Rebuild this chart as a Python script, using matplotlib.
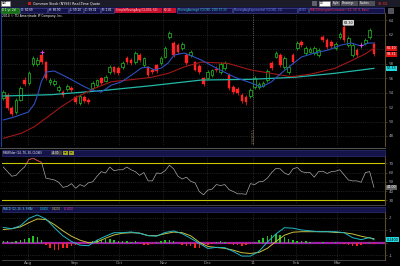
import matplotlib
matplotlib.use('Agg')
import matplotlib.pyplot as plt
import numpy as np
from matplotlib.patches import Rectangle

plt.rcParams['font.family'] = 'DejaVu Sans'

# price bars (Jul 2010 - Mar 2011)
opens = [53.24, 53.66, 51.86, 51.31, 52.97, 55.72, 55.31, 57.93, 57.93, 59.17,
         58.21, 55.45, 55.17, 54.34, 54.07, 54.48, 54.62, 53.38, 52.55, 53.38,
         52.97, 54.62, 55.03, 56.00, 55.59, 56.83, 57.52, 57.38, 57.52, 58.76,
         58.48, 58.21, 59.17, 57.79, 57.52, 57.10, 57.79, 58.07, 58.90, 61.66,
         60.83, 60.55, 60.14, 59.17, 59.17, 58.21, 57.66, 56.00, 56.00, 56.41,
         57.24, 56.83, 57.38, 56.41, 54.76, 54.48, 53.66, 53.38, 53.52, 54.76,
         54.76, 54.90, 55.72, 58.07, 58.90, 59.17, 57.52, 56.83, 59.17, 60.14,
         60.97, 59.45, 59.59, 59.45, 59.17, 61.66, 61.24, 60.97, 60.14, 61.66,
         63.03, 60.55, 59.17, 59.86, 60.50, 60.83, 61.66, 60.69]
highs = [54.40, 53.90, 52.10, 53.20, 54.90, 56.10, 56.90, 59.00, 58.90, 59.60,
         58.40, 56.00, 55.90, 55.00, 54.30, 55.20, 54.90, 53.60, 53.80, 53.60,
         53.20, 55.60, 55.90, 56.20, 56.40, 57.80, 57.70, 57.60, 58.30, 59.00,
         58.70, 59.70, 59.40, 58.90, 57.70, 57.40, 58.00, 59.00, 60.40, 62.50,
         61.10, 60.80, 61.00, 59.40, 59.80, 58.40, 57.90, 56.20, 57.10, 57.30,
         57.60, 58.20, 58.30, 56.70, 55.00, 54.70, 53.90, 53.60, 54.60, 56.30,
         55.40, 55.60, 57.20, 58.30, 59.70, 59.40, 59.00, 57.80, 59.40, 61.10,
         61.20, 60.40, 60.30, 60.40, 60.10, 61.90, 61.50, 61.20, 60.90, 62.40,
         63.30, 61.80, 60.80, 60.10, 60.90, 61.50, 62.90, 60.90]
lows = [53.00, 51.60, 50.70, 51.00, 52.80, 54.90, 55.00, 57.60, 57.70, 58.00,
        55.70, 55.10, 54.90, 54.10, 53.40, 54.20, 54.10, 52.40, 52.30, 52.60,
        52.40, 54.40, 54.80, 55.10, 55.40, 56.60, 56.60, 56.40, 57.30, 58.00,
        57.80, 58.00, 58.20, 57.50, 56.10, 56.60, 56.70, 57.80, 58.70, 61.40,
        58.90, 59.30, 59.90, 57.80, 58.90, 56.90, 56.60, 54.90, 55.80, 56.20,
        56.80, 56.60, 57.10, 54.40, 53.80, 53.60, 52.60, 52.30, 53.30, 54.50,
        54.50, 54.70, 55.50, 57.10, 58.70, 57.50, 57.30, 56.60, 58.00, 59.90,
        60.30, 59.20, 59.40, 59.20, 58.90, 61.00, 60.00, 60.20, 59.90, 61.40,
        61.00, 60.30, 58.90, 58.90, 60.20, 60.60, 61.40, 59.10]
closes = [54.07, 51.86, 51.03, 52.97, 54.62, 55.17, 56.69, 58.76, 58.48, 58.21,
          56.00, 55.72, 55.59, 54.76, 53.66, 54.90, 54.34, 52.69, 53.52, 52.83,
          52.69, 55.31, 55.72, 55.31, 56.14, 57.52, 56.83, 56.69, 58.07, 58.21,
          58.07, 59.45, 58.48, 58.76, 56.41, 56.83, 56.97, 58.76, 60.14, 62.21,
          59.17, 59.59, 60.69, 58.07, 59.59, 57.10, 56.83, 55.17, 56.83, 57.10,
          57.10, 57.93, 58.07, 54.62, 54.07, 53.93, 52.83, 52.69, 54.34, 56.00,
          55.17, 55.31, 56.97, 57.38, 59.45, 57.79, 58.76, 57.52, 58.21, 60.83,
          60.55, 60.14, 60.00, 60.14, 59.86, 61.24, 60.28, 60.41, 60.69, 62.07,
          61.24, 61.52, 60.55, 59.17, 60.60, 61.24, 62.62, 59.31]

# moving averages (bar position, value)
ema20_pos = [0, 2.6, 5.9, 7.3, 8.2, 8.9, 10.1, 12.0, 15.3, 18.3, 20.7, 23.0, 25.4,
             27.7, 30.8, 32.4, 34.0, 35.5, 37.1, 38.7, 40.1, 42.5, 44.8, 46.5,
             49.5, 54.2, 58.2, 60.6, 62.9, 65.3, 67.6, 70.0, 73.0, 76.3, 79.3,
             81.7, 84.0, 85.7, 87.0]
ema20 = [50.21, 50.62, 51.31, 52.41, 53.93, 55.45, 56.83, 56.97, 56.00, 55.03,
         54.34, 54.07, 55.03, 55.45, 56.69, 57.38, 57.52, 57.10, 57.38, 58.07,
         59.17, 59.45, 58.90, 58.48, 57.52, 56.14, 55.31, 54.76, 55.45, 56.69,
         57.79, 58.90, 59.45, 59.86, 60.55, 60.83, 60.41, 60.83, 60.83]
sma50_pos = [0, 4.2, 7.3, 10.5, 13.6, 16.7, 19.1, 21.4, 25.4, 30.8, 34.7, 38.7,
             42.6, 46.5, 52.7, 58.2, 67.6, 72.3, 77.8, 81.7, 84.8, 87.0]
sma50 = [47.68, 48.37, 49.29, 50.67, 52.04, 53.20, 53.89, 54.58, 55.49, 55.82,
         56.09, 56.64, 57.56, 58.20, 58.02, 57.10, 56.18, 56.55, 57.33, 58.39,
         59.27, 60.10]
sma200_pos = [0, 11.3, 23.0, 34.7, 46.5, 58.2, 68.3, 77.7, 87.0]
sma200 = [53.52, 53.70, 54.25, 54.94, 55.72, 55.82, 56.10, 56.64, 57.33]

rsi = [66, 61, 56, 57, 62, 66, 74, 75.5, 73, 71, 54, 53, 52, 49.5, 44, 45, 48, 43,
       47, 45, 49, 50, 56, 61, 59.5, 66, 62, 63, 63, 66, 63, 61, 57, 60, 51, 51,
       59.5, 59, 62, 68, 64, 56, 53, 55, 50.5, 49, 39.5, 36, 41, 42, 47, 46, 47,
       41.5, 39.5, 37, 37, 36.5, 48, 47, 50, 50.5, 54, 60, 64.5, 64, 59.5, 57.5,
       64, 65.5, 61, 60, 60, 55, 61, 61.5, 59, 61, 61.5, 63, 57.5, 52, 51, 51,
       49.5, 60, 61, 44]

macd_pos = list(range(0, 88, 2)) + [87]
macd = [1.22, 1.12, 1.35, 1.95, 2.22, 1.90, 1.20, 0.55, 0.10, -0.20, -0.24, 0.20,
        0.52, 0.80, 0.80, 0.86, 0.75, 0.56, 0.52, 0.82, 0.94, 0.72, 0.35, -0.05,
        -0.46, -0.37, -0.40, -0.70, -1.07, -1.07, -0.70, 0.05, 0.70, 1.20, 1.16,
        1.02, 0.95, 0.88, 0.88, 0.88, 0.80, 0.40, 0.24, 0.42, 0.24]
signal = [1.05, 1.12, 1.26, 1.60, 1.90, 1.85, 1.45, 0.95, 0.52, 0.20, 0.00, 0.07,
          0.36, 0.62, 0.76, 0.80, 0.77, 0.57, 0.56, 0.72, 0.85, 0.80, 0.55, 0.04,
          -0.30, -0.38, -0.45, -0.60, -0.80, -0.86, -0.78, -0.45, 0.10, 0.60, 0.84,
          0.88, 0.88, 0.88, 0.88, 0.82, 0.80, 0.70, 0.52, 0.38, 0.32]
hist = [0.1, 0.1, 0.05, 0.1, 0.2, 0.3, 0.4, 0.5, 0.45, 0.2, -0.2, -0.45, -0.6,
        -0.55, -0.45, -0.4, -0.3, -0.2, -0.1, 0.0, 0.05, 0.1, 0.2, 0.25, 0.3, 0.3,
        0.2, 0.15, 0.1, 0.1, 0.05, 0.1, 0.0, -0.15, -0.2, -0.1, 0.05, 0.15, 0.2,
        0.2, 0.1, 0.0, -0.15, -0.25, -0.3, -0.4, -0.4, -0.3, -0.2, -0.1, 0.05,
        0.1, 0.05, -0.1, -0.15, -0.2, -0.25, -0.2, -0.1, 0.05, 0.2, 0.35, 0.5,
        0.6, 0.7, 0.6, 0.45, 0.3, 0.2, 0.15, 0.15, 0.1, 0.05, 0.0, -0.05, 0.05,
        -0.05, 0.0, 0.05, 0.0, -0.1, -0.2, -0.3, -0.3, -0.2, -0.1, 0.05, -0.1]

month_pos = [5.9, 16.7, 27.2, 37.6, 47.9, 58.7, 68.8, 78.4]
month_labels = ['Aug', 'Sep', 'Oct', 'Nov', 'Dec', '11', 'Feb', 'Mar']
year_pos = 58.7
price_ticks = [48, 50, 52, 54, 56, 58, 60, 62, 64]
price_labels = ['48', '50', '52', '54', '56', '58', '', '62', '64']  # 60 sits under the price boxes
rsi_ticks = [30, 40, 50, 60, 70]
macd_ticks = [-1, 0, 1, 2]
macd_labels = ['-1', '', '1', '2']  # 0 sits under the value box

UP = '#1ec81e'
DN = '#ff2424'
GRID = '#3c3c3c'
AXC = '#5a4a30'
TXT = '#a0a0a0'
FS = 3.0

fig = plt.figure(figsize=(4, 2.66), dpi=100, facecolor='black')


def panel(top, bottom):
    a = fig.add_axes([2 / 400, 1 - bottom / 266, 383 / 400, (bottom - top) / 266])
    a.set_facecolor('black')
    a.set_xlim(-0.3, 89.6)
    for s in a.spines.values():
        s.set_visible(False)
    a.spines['right'].set_visible(True)
    a.spines['right'].set_color(AXC)
    a.spines['right'].set_linewidth(0.8)
    a.yaxis.tick_right()
    a.tick_params(axis='y', length=1.5, width=0.5, color=AXC, labelcolor=TXT,
                  labelsize=FS, pad=1)
    a.set_xticks(month_pos)
    a.tick_params(axis='x', length=0, labelbottom=False)
    for m in month_pos:
        a.axvline(m, color=GRID, ls=':', lw=0.5, zorder=0)
    return a


# ---- price panel
ax = panel(13, 146)
ax.set_ylim(46.62, 64.97)
ax.set_yticks(price_ticks)
ax.set_yticklabels(price_labels)
for t in price_ticks:
    ax.axhline(t, color=GRID, ls=':', lw=0.5, zorder=0)
ax.axvline(year_pos, color='#707070', ls=':', lw=0.6, zorder=0)
ax.text(year_pos, 48.0, '1/3/2011', rotation=90, color='#8a7a50', fontsize=2.6,
        ha='center', va='center')

x = np.arange(len(closes))
o = np.array(opens)
c = np.array(closes)
h = np.array(highs)
lo = np.array(lows)
up = c >= o
body = np.maximum(np.abs(c - o), 0.08)
bot = np.minimum(o, c)
ax.vlines(x[up], lo[up], h[up], color=UP, lw=0.5, zorder=2)
ax.vlines(x[~up], lo[~up], h[~up], color=DN, lw=0.5, zorder=2)
ax.bar(x[up], body[up], bottom=bot[up], width=0.62, facecolor='black',
       edgecolor=UP, lw=0.5, zorder=3)
ax.bar(x[~up], body[~up], bottom=bot[~up], width=0.62, facecolor=DN,
       edgecolor=DN, lw=0.3, zorder=3)

ax.plot(sma200_pos, sma200, color='#22b8a8', lw=0.9, zorder=4)
ax.plot(sma50_pos, sma50, color='#a01818', lw=0.8, zorder=4)
ax.plot(ema20_pos, ema20, color='#2d50c0', lw=0.8, zorder=4)

ax.plot([9, 84], [highs[9], 60.55], '+', color='#ff40ff', ms=2.5, mew=0.6, zorder=5)
ax.text(81, 63.62, '%.2f' % highs[80], fontsize=2.4, color='black', ha='center',
        va='center', bbox=dict(boxstyle='round,pad=0.25', fc='#d8d8d8', ec='none'))


def side_box(a, val, label, fc, tc, fs=2.4):
    a.text(1.004, val, label, transform=a.get_yaxis_transform(), fontsize=fs,
           color=tc, va='center', ha='left', clip_on=False,
           bbox=dict(boxstyle='square,pad=0.15', fc=fc, ec='none'))


side_box(ax, sma50[-1], '%.2f' % sma50[-1], '#e01010', 'white')
side_box(ax, closes[-1], '%.2f' % closes[-1], '#e01010', 'white')
side_box(ax, sma200[-1], '%.2f' % sma200[-1], '#20d8e0', 'black')

# ---- RSI panel
ax2 = panel(156, 204)
ax2.set_ylim(26.0, 77.9)
ax2.set_yticks(rsi_ticks)
ax2.set_yticklabels([str(t) for t in rsi_ticks])
for t in [40, 50, 60]:
    ax2.axhline(t, color=GRID, ls=':', lw=0.5, zorder=0)
ax2.axhline(70, color='#c8c800', lw=0.8)
ax2.axhline(30, color='#c8c800', lw=0.8)
ax2.plot(x, rsi, color='#a8a8a8', lw=0.5)
red_part, = ax2.plot(x, rsi, color='#e02020', lw=0.5)
red_part.set_clip_path(Rectangle((-1, 70), 100, 30, transform=ax2.transData))
side_box(ax2, rsi[-1], '%.2f' % rsi[-1], '#606060', 'white')

# ---- MACD panel
ax3 = panel(212, 260)
ax3.set_ylim(-1.384, 2.456)
ax3.set_yticks(macd_ticks)
ax3.set_yticklabels(macd_labels)
for t in [-1, 1, 2]:
    ax3.axhline(t, color=GRID, ls=':', lw=0.5, zorder=0)
ax3.axhline(0, color='#a020a8', lw=1.6, zorder=2)
hist_cols = [UP if v >= 0 else DN for v in hist]
ax3.bar(x, hist, width=0.35, color=hist_cols, zorder=3)
ax3.plot(macd_pos, signal, color='#c8c040', lw=0.7, zorder=4)
ax3.plot(macd_pos, macd, color='#20b8c8', lw=0.7, zorder=4)
side_box(ax3, macd[-1], '%.4f' % macd[-1], '#20d8e0', 'black')
ax3.spines['bottom'].set_visible(True)
ax3.spines['bottom'].set_color('#505050')
ax3.spines['bottom'].set_linewidth(0.6)
ax3.tick_params(axis='x', labelbottom=True, labelsize=FS, labelcolor=TXT, pad=1)
ax3.set_xticklabels(month_labels)

# ---- window chrome / headers (pixel coordinates)
ov = fig.add_axes([0, 0, 1, 1])
ov.set_xlim(0, 400)
ov.set_ylim(266, 0)
ov.axis('off')


def box(x0, y0, w, hgt, fc, ec='none', txt='', tc='white', fs=2.0):
    r = Rectangle((x0, y0), w, hgt, fc=fc, ec=ec, lw=0.4)
    ov.add_patch(r)
    if txt:
        t = ov.text(x0 + 0.7, y0 + hgt / 2, txt, color=tc, fontsize=fs,
                    va='center', ha='left')
        t.set_clip_path(r)


box(0, 0, 400, 6.8, '#1c1c28')
box(1, 1, 9, 4.8, 'white', '#808080', 'CAT', 'black')
box(28, 1.5, 3, 3.5, '#c02020')
ov.text(33, 3.4, 'Common Stock (NYSE) Real-Time Quote', color='white',
        fontsize=2.4, va='center')
box(312, 1, 5, 4.8, '#606070')
box(319, 1, 11, 4.8, 'white', '#808080', '1D', 'black')
box(332, 1, 8, 4.8, '#50505a', txt='Style', fs=1.9)
box(341, 1, 17, 4.8, '#50505a', txt='Drawings', fs=1.9)
box(359, 1, 16, 4.8, '#50505a', txt='Studies', fs=1.9)
ov.text(378, 3.4, '$X.XX', color='#ff3030', fontsize=2.4, va='center')

box(0, 7.2, 385, 5.8, '#14144a')
box(1, 7.6, 18, 5, '#147014', '#40a040', 'D 1 yr, 2d')
box(20, 7.6, 27, 5, '#14144a', '#5050a0', 'O: %.2f' % opens[-1])
box(48, 7.6, 20, 5, '#14144a', '#5050a0', 'H: %.2f' % highs[-1])
box(69, 7.6, 14, 5, '#14144a', '#5050a0', 'L: %.2f' % lows[-1])
box(84, 7.6, 16, 5, '#14144a', '#5050a0', 'C: %.2f' % closes[-1])
box(101, 7.6, 13, 5, '#14144a', '#5050a0', 'R: 1.81')
box(115, 7.6, 47, 5, '#c8102e', txt='SimpleMovingAvg (CLOSE, 50)',
    tc='#ffd0d0')
box(163, 7.6, 13, 5, '#c8102e', txt='%.2f' % sma50[-1], tc='#ffd0d0')
box(177, 7.6, 55, 5, '#14144a', '#5050a0',
    'MovingAverage (CLOSE, 200) %.2f' % sma200[-1], '#30d0c0')
box(233, 7.6, 64, 5, '#14144a', '#5050a0',
    'MovingAvgExponential (CLOSE, 20)', '#6c8cff')
box(298, 7.6, 10, 5, '#14144a', '#5050a0', '%.2f' % ema20[-1], '#6c8cff')
box(309, 7.6, 75, 5, '#14144a', '#5050a0',
    'MACDHistogramCrossover (12, 26, 9, Bars)', '#ff3050')
box(388, 7.6, 5, 5, '#505060', '#808080')
ov.text(2, 15.8, '2010 \u00a9 TD Ameritrade IP Company, Inc.', color='white',
        fontsize=2.2, va='center')

ov.plot([0.5, 0.5], [13, 146], color='#2040a0', lw=0.8)
ov.plot([0, 385], [147.5, 147.5], color='#505050', lw=0.8)

box(2, 150, 383, 5.8, '#14144a', '#3a3a8a')
ov.text(3, 153, 'RSIWilder (14, 70, 30, CLOSE)', color='white', fontsize=1.9,
        va='center')
box(51, 150.6, 11, 4.6, '#404048', txt='%.2f' % rsi[-1], fs=1.9)
box(63, 150.6, 5, 4.6, '#a0a020', txt='OB', tc='black', fs=1.6)
box(69, 150.6, 5, 4.6, '#a0a020', txt='OS', tc='black', fs=1.6)

ov.plot([0, 385], [205, 205], color='#505050', lw=0.6)
box(2, 206.5, 383, 5.8, '#14144a', '#3a3a8a')
ov.text(3, 209.4, 'MACD (12, 26, 9, EMA)', color='#60d0e0', fontsize=1.9,
        va='center')
ov.text(40, 209.4, '%.4f' % macd[-1], color='#20d8e0', fontsize=1.9, va='center')
ov.text(52, 209.4, '%.4f' % signal[-1], color='#d8d040', fontsize=1.9, va='center')
ov.text(64, 209.4, '%.4f' % hist[-1], color='#ff40a0', fontsize=1.9, va='center')

fig.savefig('out.png', dpi=100, facecolor='black')
